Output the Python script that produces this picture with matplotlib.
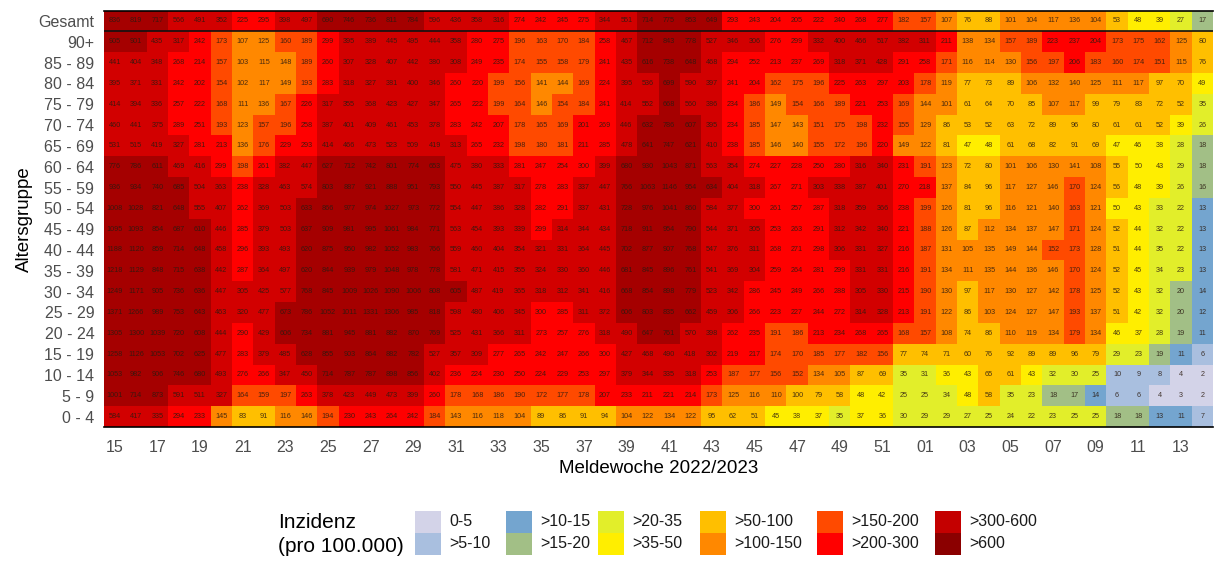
import numpy as np
import matplotlib
matplotlib.use("Agg")
import matplotlib.pyplot as plt
from matplotlib.colors import ListedColormap, BoundaryNorm
from matplotlib.patches import Rectangle

plt.rcParams['font.family'] = ['Liberation Sans', 'DejaVu Sans']

# Meldewochen 15-52 (2022) and 01-14 (2023)
weeks = [f"{w:02d}" for w in list(range(15, 53)) + list(range(1, 15))]
age_groups = ["Gesamt", "90+", "85 - 89", "80 - 84", "75 - 79", "70 - 74", "65 - 69", "60 - 64", "55 - 59", "50 - 54",
              "45 - 49", "40 - 44", "35 - 39", "30 - 34", "25 - 29", "20 - 24", "15 - 19", "10 - 14", "5 - 9", "0 - 4"]

gesamt = [836, 819, 717, 566, 491, 352, 225, 295, 398, 497, 690, 746, 736, 811, 784, 596, 436, 358, 316, 274, 242, 245, 275, 344, 551, 714,
          775, 853, 649, 293, 243, 204, 205, 222, 240, 268, 277, 182, 157, 107, 76, 88, 101, 104, 117, 136, 104, 53, 48, 39, 27, 17]
a90 = [905, 901, 435, 317, 242, 173, 107, 125, 160, 189, 299, 395, 389, 445, 495, 444, 358, 280, 275, 196, 163, 170, 184, 258, 467, 712,
       843, 778, 527, 346, 306, 276, 299, 332, 400, 466, 517, 382, 311, 211, 138, 134, 157, 189, 223, 237, 204, 173, 175, 162, 125, 80]
a85 = [441, 404, 348, 268, 214, 157, 103, 115, 148, 189, 260, 307, 328, 407, 442, 380, 308, 249, 235, 174, 155, 158, 179, 241, 435, 616,
       738, 648, 468, 294, 252, 213, 237, 269, 318, 371, 428, 291, 258, 171, 116, 114, 130, 156, 197, 206, 183, 160, 174, 151, 115, 76]
a80 = [395, 371, 331, 242, 202, 154, 102, 117, 149, 193, 283, 318, 327, 381, 400, 346, 260, 220, 199, 156, 141, 144, 169, 224, 395, 536,
       699, 590, 397, 241, 204, 162, 175, 196, 225, 263, 297, 203, 178, 119, 77, 73, 89, 106, 132, 140, 125, 111, 117, 97, 70, 49]
a75 = [414, 394, 336, 257, 222, 168, 111, 136, 167, 226, 317, 355, 368, 423, 427, 347, 265, 222, 199, 164, 146, 154, 184, 241, 414, 552,
       668, 560, 386, 234, 186, 149, 154, 166, 189, 221, 253, 169, 144, 101, 61, 64, 70, 85, 107, 117, 99, 79, 83, 72, 52, 35]
a70 = [460, 441, 375, 289, 251, 193, 123, 157, 196, 258, 387, 401, 409, 461, 453, 378, 283, 242, 207, 178, 165, 169, 201, 269, 446, 632,
       786, 607, 395, 234, 185, 147, 143, 151, 175, 198, 232, 155, 129, 86, 53, 52, 63, 72, 89, 96, 80, 61, 61, 52, 39, 26]
a65 = [531, 515, 419, 327, 281, 213, 136, 176, 229, 293, 414, 466, 473, 523, 509, 419, 313, 265, 232, 198, 180, 181, 211, 285, 478, 641,
       747, 621, 410, 238, 185, 146, 140, 155, 172, 196, 220, 149, 122, 81, 47, 48, 61, 68, 82, 91, 69, 47, 46, 38, 28, 18]
a60 = [776, 786, 611, 469, 416, 299, 198, 261, 382, 447, 627, 712, 742, 801, 774, 653, 475, 380, 333, 281, 247, 254, 300, 399, 680, 930,
       1043, 871, 563, 354, 274, 227, 228, 250, 280, 316, 340, 231, 191, 123, 72, 80, 101, 106, 130, 141, 108, 55, 50, 43, 29, 18]
a55 = [936, 934, 740, 685, 504, 363, 238, 328, 463, 574, 803, 887, 921, 888, 951, 793, 550, 445, 387, 317, 278, 283, 337, 447, 766, 1063,
       1146, 954, 634, 404, 318, 267, 271, 303, 338, 387, 401, 270, 218, 137, 84, 96, 117, 127, 146, 170, 124, 56, 48, 39, 26, 16]
a50 = [1008, 1028, 821, 648, 555, 407, 262, 369, 503, 633, 866, 977, 974, 1027, 973, 772, 554, 447, 386, 328, 282, 291, 337, 431, 728, 976,
       1041, 860, 584, 377, 300, 261, 257, 287, 318, 359, 366, 238, 199, 126, 81, 96, 116, 121, 140, 163, 121, 50, 43, 33, 22, 13]
a45 = [1095, 1093, 854, 687, 610, 446, 285, 379, 503, 637, 909, 981, 995, 1061, 984, 771, 563, 454, 393, 339, 299, 314, 344, 434, 718, 911,
       954, 790, 544, 371, 305, 253, 263, 291, 312, 342, 340, 221, 188, 126, 87, 112, 134, 137, 147, 171, 124, 52, 44, 32, 22, 13]
a40 = [1188, 1120, 859, 714, 648, 458, 296, 393, 493, 620, 875, 950, 982, 1052, 983, 766, 559, 460, 404, 354, 321, 331, 364, 445, 702, 877,
       907, 768, 547, 376, 311, 268, 271, 298, 306, 331, 327, 216, 187, 131, 105, 135, 149, 144, 152, 173, 128, 51, 44, 35, 22, 13]
a35 = [1218, 1129, 848, 715, 638, 442, 287, 364, 497, 620, 844, 939, 979, 1048, 978, 778, 581, 471, 415, 355, 324, 330, 360, 446, 681, 845,
       896, 761, 541, 369, 304, 259, 264, 281, 299, 331, 331, 216, 191, 134, 111, 135, 144, 136, 146, 170, 124, 52, 45, 34, 23, 13]
a30 = [1249, 1171, 905, 736, 636, 447, 305, 425, 577, 768, 845, 1009, 1026, 1090, 1006, 808, 605, 487, 419, 365, 318, 312, 341, 416, 668, 854,
       898, 779, 523, 342, 286, 245, 249, 266, 288, 305, 330, 215, 190, 130, 97, 117, 130, 127, 142, 178, 125, 52, 43, 32, 20, 14]
a25 = [1371, 1266, 989, 753, 643, 463, 320, 477, 673, 786, 1052, 1011, 1331, 1306, 985, 818, 598, 480, 406, 345, 300, 285, 311, 372, 606, 803,
       835, 662, 459, 306, 266, 223, 227, 244, 272, 314, 328, 213, 191, 122, 86, 103, 124, 127, 147, 193, 137, 51, 42, 32, 20, 12]
a20 = [1305, 1300, 1039, 720, 608, 444, 290, 429, 606, 734, 881, 945, 881, 882, 870, 769, 525, 431, 366, 311, 273, 257, 276, 318, 490, 647,
       761, 570, 398, 262, 235, 191, 186, 213, 234, 268, 265, 168, 157, 108, 74, 86, 110, 119, 134, 179, 134, 46, 37, 28, 19, 11]
a15 = [1258, 1126, 1053, 702, 625, 477, 283, 379, 485, 628, 855, 903, 864, 882, 782, 527, 357, 309, 277, 265, 242, 247, 266, 300, 427, 468,
       490, 418, 302, 219, 217, 174, 170, 185, 177, 182, 156, 77, 74, 71, 60, 76, 92, 89, 89, 96, 79, 29, 23, 19, 11, 6]
a10 = [1053, 982, 906, 746, 680, 493, 276, 266, 347, 450, 714, 787, 787, 898, 856, 402, 236, 224, 230, 250, 224, 229, 253, 297, 379, 344,
       335, 318, 253, 187, 177, 156, 152, 134, 105, 87, 69, 35, 31, 36, 43, 65, 61, 43, 32, 30, 25, 10, 9, 8, 4, 2]
a5 = [1001, 714, 873, 591, 511, 327, 164, 159, 197, 263, 378, 423, 449, 473, 399, 260, 178, 168, 186, 190, 172, 177, 178, 207, 233, 211,
      221, 214, 173, 125, 116, 110, 100, 79, 58, 48, 42, 25, 25, 34, 48, 58, 35, 23, 18, 17, 14, 6, 6, 4, 3, 2]
a0 = [584, 417, 335, 294, 233, 145, 83, 91, 116, 146, 194, 230, 243, 264, 242, 184, 143, 116, 118, 104, 89, 86, 91, 94, 104, 122,
      134, 122, 95, 62, 51, 45, 38, 37, 35, 37, 36, 30, 29, 29, 27, 25, 24, 22, 23, 25, 25, 18, 18, 13, 11, 7]

rows = [gesamt, a90, a85, a80, a75, a70, a65, a60, a55, a50, a45, a40, a35, a30, a25, a20, a15, a10, a5, a0]

# legend classes, upper limits are inclusive
class_labels = ["0-5", ">5-10", ">10-15", ">15-20", ">20-35", ">35-50", ">50-100", ">100-150", ">150-200", ">200-300", ">300-600", ">600"]
class_limits = [0, 5.5, 10.5, 15.5, 20.5, 35.5, 50.5, 100.5, 150.5, 200.5, 300.5, 600.5, 5000]
class_colors = ["#d3d3e8", "#a9bfdf", "#74a5cf", "#a2bf86", "#e2ee2a", "#ffee00", "#ffbf00", "#ff8800",
                "#ff4a00", "#ff0000", "#c40000", "#8b0000"]
# tiles look a bit lighter than the legend keys in the two darkest classes
tile_colors = class_colors[:10] + ["#d20000", "#a50000"]

W, H = 1215, 561
matrix = np.array(rows)
cmap = ListedColormap(tile_colors)
norm = BoundaryNorm(class_limits, cmap.N)

fig = plt.figure(figsize=(W / 100, H / 100), dpi=100)
ax = fig.add_axes([104 / W, 1 - 427 / H, 1109 / W, 416.5 / H])
ax.pcolormesh(np.arange(len(weeks) + 1) - 0.5, np.arange(len(age_groups) + 1) - 0.5, matrix, cmap=cmap, norm=norm)
ax.set_ylim(len(age_groups) - 0.5, -0.5)

for r in range(matrix.shape[0]):
    for c in range(matrix.shape[1]):
        ax.text(c, r, str(matrix[r, c]), ha='center', va='center', fontsize=5.2, color='#2a1a10', alpha=0.85)

ax.set_xticks(np.arange(0, len(weeks), 2))
ax.set_xticklabels(weeks[::2], fontsize=11.5, color='#4d4d4d')
ax.set_yticks(np.arange(len(age_groups)))
ax.set_yticklabels(age_groups, fontsize=11.5, color='#4d4d4d')
ax.tick_params(axis='x', length=0, pad=9)
ax.tick_params(axis='y', length=0, pad=7)
ax.set_xlabel("Meldewoche 2022/2023", fontsize=13.5, labelpad=4)
ax.set_ylabel("Altersgruppe", fontsize=13.5, labelpad=4)
for name in ['left', 'right']:
    ax.spines[name].set_visible(False)
for name in ['top', 'bottom']:
    ax.spines[name].set_linewidth(1.2)
ax.axhline(0.5, color='#111111', lw=1.2)

# legend drawn in pixel coordinates of the figure
leg = fig.add_axes([0, 0, 1, 1])
leg.set_xlim(0, W)
leg.set_ylim(H, 0)
leg.axis('off')
leg.patch.set_alpha(0)
leg.text(278, 523, "Inzidenz", fontsize=15, va='center')
leg.text(278, 546, "(pro 100.000)", fontsize=15, va='center')
col_x = [415, 506, 598, 700, 817, 935]
row_y = [511, 533]
for i, (label, color) in enumerate(zip(class_labels, class_colors)):
    x = col_x[i // 2]
    y = row_y[i % 2]
    leg.add_patch(Rectangle((x, y), 26, 22, facecolor=color, edgecolor='none'))
    leg.text(x + 34, y + 11, label, fontsize=11.5, va='center', color='#1a1a1a')

fig.savefig("out.png", dpi=100)
